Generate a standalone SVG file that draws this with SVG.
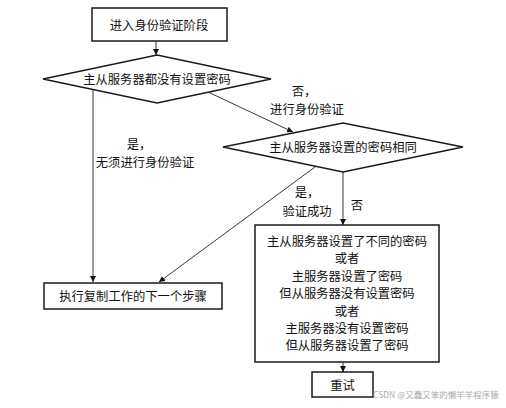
<svg xmlns="http://www.w3.org/2000/svg" width="506" height="408" viewBox="0 0 506 408">
<style>
.n{fill:#fff;stroke:#1a1a1a;stroke-width:1.5}
.t{font-family:"Noto Sans CJK SC",sans-serif;font-size:12.3px;fill:#111;text-anchor:middle;dominant-baseline:central}
.c{fill:none;stroke:#222;stroke-width:0.9}
.wm{font-family:"Noto Sans CJK SC",sans-serif;font-size:8.5px;fill:#aaa}
</style>
<defs>
<marker id="a" viewBox="0 0 10 10" refX="10" refY="5" markerWidth="6" markerHeight="6" orient="auto" markerUnits="userSpaceOnUse">
<path d="M0,0 L10,5 L0,10 z" fill="#111"/>
</marker>
</defs>
<rect width="506" height="408" fill="#fff"/>
<g id="connectors">
<path class="c" d="M156,41 L156,55" marker-end="url(#a)"/>
<path class="c" d="M208,92 L293,132" marker-end="url(#a)"/>
<path class="c" d="M93,90 L93,282" marker-end="url(#a)"/>
<path class="c" d="M315,167 L159,282" marker-end="url(#a)"/>
<path class="c" d="M343,172 L343,225" marker-end="url(#a)"/>
<path class="c" d="M343,362 L343,372" marker-end="url(#a)"/>
<text class="t" x="304" y="91">否，</text>
<text class="t" x="307" y="109">进行身份验证</text>
<text class="t" x="139" y="144">是，</text>
<text class="t" x="145" y="162">无须进行身份验证</text>
<text class="t" x="307" y="192">是，</text>
<text class="t" x="307" y="211">验证成功</text>
<text class="t" x="357" y="205">否</text>
</g>
<g id="start">
<rect class="n" x="92" y="8" width="135" height="33"/>
<text class="t" x="159" y="25">进入身份验证阶段</text>
</g>
<g id="decision1">
<polygon class="n" points="43,79 157,55 271,79 157,103"/>
<text class="t" x="157" y="79">主从服务器都没有设置密码</text>
</g>
<g id="decision2">
<polygon class="n" points="223,147 343,123 463,147 343,172"/>
<text class="t" x="343" y="147">主从服务器设置的密码相同</text>
</g>
<g id="next">
<rect class="n" x="44" y="283" width="178" height="26"/>
<text class="t" x="133" y="296">执行复制工作的下一个步骤</text>
</g>
<g id="mismatch">
<rect class="n" x="255" y="225" width="184" height="137"/>
<text class="t" x="347" y="241">主从服务器设置了不同的密码</text>
<text class="t" x="347" y="258">或者</text>
<text class="t" x="347" y="276">主服务器设置了密码</text>
<text class="t" x="347" y="293">但从服务器没有设置密码</text>
<text class="t" x="347" y="311">或者</text>
<text class="t" x="347" y="328">主服务器没有设置密码</text>
<text class="t" x="347" y="345">但从服务器设置了密码</text>
</g>
<g id="retry">
<rect class="n" x="312" y="372" width="61" height="25"/>
<text class="t" x="342.5" y="384.5">重试</text>
</g>
<text class="wm" x="373" y="398">CSDN @又蠢又笨的懒羊羊程序猿</text>
</svg>
